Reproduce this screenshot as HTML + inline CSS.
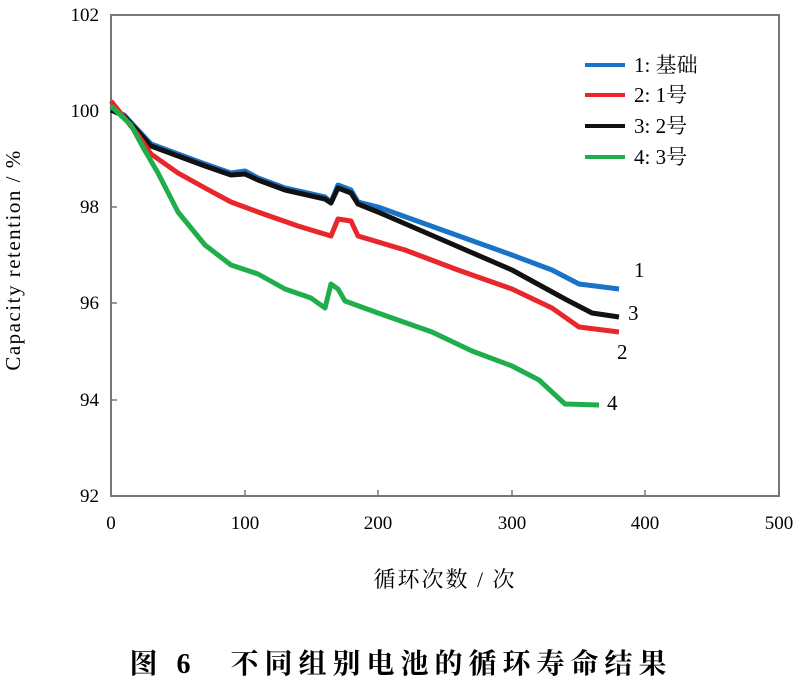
<html><head><style>body{margin:0;background:#fff}svg text{font-family:"Liberation Serif","Noto Serif CJK SC",serif}</style></head><body>
<svg width="802" height="685" xmlns="http://www.w3.org/2000/svg">
<rect x="111" y="15" width="668" height="481" fill="none" stroke="#777" stroke-width="2"/>
<g stroke="#777" stroke-width="1.5">
<line x1="111" y1="111" x2="117" y2="111"/><line x1="111" y1="207" x2="117" y2="207"/><line x1="111" y1="303" x2="117" y2="303"/><line x1="111" y1="400" x2="117" y2="400"/>
<line x1="245" y1="496" x2="245" y2="490"/><line x1="378" y1="496" x2="378" y2="490"/><line x1="512" y1="496" x2="512" y2="490"/><line x1="645" y1="496" x2="645" y2="490"/>
</g>
<g font-size="19" text-anchor="end"><text x="99" y="21">102</text><text x="99" y="117">100</text><text x="99" y="213">98</text><text x="99" y="309">96</text><text x="99" y="406">94</text><text x="99" y="502">92</text></g>
<g font-size="19" text-anchor="middle"><text x="111" y="529">0</text><text x="245" y="529">100</text><text x="378" y="529">200</text><text x="512" y="529">300</text><text x="645" y="529">400</text><text x="779" y="529">500</text></g>
<text x="445" y="587" font-size="22" letter-spacing="2" text-anchor="middle">循环次数 / 次</text>
<text transform="translate(20,260) rotate(-90)" font-size="21" letter-spacing="1.5" text-anchor="middle">Capacity retention / %</text>
<g fill="none" stroke-width="5" stroke-linejoin="round">
<polyline stroke="#1a73c6" points="111,110 124,115 151,144 178,154 205,164 231,173 245,171 258,178 285,188 325,197 331,202 338,185 351,190 358,202 378,207 445,231 512,255 552,270 579,284 619,289"/>
<polyline stroke="#111" points="111,110 124,116 151,146 178,156 205,166 231,175 245,174 258,180 285,190 325,199 331,203 338,188 351,193 358,204 378,212 445,241 512,270 565,299 592,313 619,317"/>
<polyline stroke="#e8262b" points="111,101 138,135 151,154 178,173 205,188 231,202 258,212 298,226 331,236 338,219 351,221 358,236 405,250 458,270 512,289 552,308 579,327 619,332"/>
<polyline stroke="#1fae4b" points="111,106 131,125 144,149 158,173 178,212 205,245 231,265 258,274 285,289 311,298 325,308 331,284 338,289 345,301 378,313 432,332 472,351 512,366 539,380 565,404 599,405"/>
</g>
<g stroke-width="4"><line x1="585" y1="65" x2="625" y2="65" stroke="#1a73c6"/><line x1="585" y1="95" x2="625" y2="95" stroke="#e8262b"/><line x1="585" y1="126" x2="625" y2="126" stroke="#111"/><line x1="585" y1="157" x2="625" y2="157" stroke="#1fae4b"/></g>
<g font-size="21"><text x="634" y="72">1: 基础</text><text x="634" y="102">2: 1号</text><text x="634" y="133">3: 2号</text><text x="634" y="164">4: 3号</text>
<text x="634" y="277">1</text><text x="628" y="320">3</text><text x="617" y="359">2</text><text x="607" y="410">4</text></g>
<text x="401" y="673" font-size="28" letter-spacing="6" text-anchor="middle" font-family="'Noto Sans CJK SC',sans-serif" font-weight="bold">图 6　不同组别电池的循环寿命结果</text>
</svg></body></html>
